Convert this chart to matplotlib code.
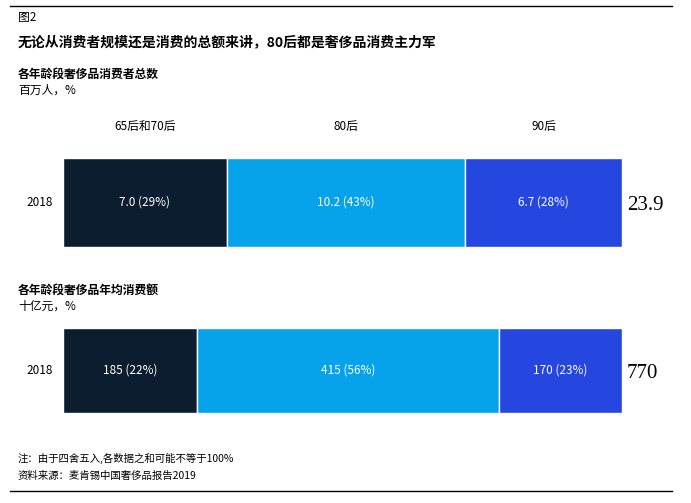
import matplotlib.pyplot as plt

plt.rcParams['font.family'] = ['Noto Sans CJK SC', 'DejaVu Sans']

groups = ["65后和70后", "80后", "90后"]
year = "2018"
consumers = [7.0, 10.2, 6.7]
consumer_pct = [29, 43, 28]
consumer_total = "23.9"
spend = [185, 415, 170]
spend_pct = [22, 56, 23]
spend_total = "770"
colors = ["#0b1d2e", "#06a3ea", "#2546df"]

W, H = 691, 503
fig = plt.figure(figsize=(W / 100, H / 100), dpi=100)


def px_axes(x0, y0, x1, y1):
    return fig.add_axes([x0 / W, 1 - y1 / H, (x1 - x0) / W, (y1 - y0) / H])


def stacked(ax, values, pcts, fmt):
    left = 0
    for v, p, c in zip(values, pcts, colors):
        ax.barh(0, v, left=left, color=c, height=1, edgecolor='white', linewidth=1)
        ax.text(left + v / 2, 0, f"{fmt(v)} ({p}%)", color='white', ha='center', va='center', fontsize=8.5)
        left += v
    ax.set_xlim(0, sum(values))
    ax.set_ylim(-0.5, 0.5)
    ax.axis('off')
    return left


def line(y):
    fig.add_artist(plt.Line2D([10 / W, 672 / W], [1 - y / H, 1 - y / H], color='black', lw=1))


line(6)
line(491)
fig.text(18 / W, 1 - 18 / H, "图2", fontsize=8.5, va='center')
fig.text(18 / W, 1 - 42 / H, "无论从消费者规模还是消费的总额来讲，80后都是奢侈品消费主力军",
         fontsize=10, fontweight='bold', va='center')

# section 1
fig.text(18 / W, 1 - 74 / H, "各年龄段奢侈品消费者总数", fontsize=8.5, fontweight='bold', va='center')
fig.text(18 / W, 1 - 90 / H, "百万人，%", fontsize=8.5, va='center')
ax1 = px_axes(63, 158, 622, 247)
stacked(ax1, consumers, consumer_pct, lambda v: f"{v:.1f}")
left = 0
for g, v in zip(groups, consumers):
    ax1.text(left + v / 2, 0.85, g, ha='center', va='center', fontsize=8.5)
    left += v
fig.text(40 / W, 1 - 202 / H, year, fontsize=8.5, ha='center', va='center')
fig.text(627 / W, 1 - 205 / H, consumer_total, fontsize=15, family='Liberation Serif', va='center')

# section 2
fig.text(18 / W, 1 - 290 / H, "各年龄段奢侈品年均消费额", fontsize=8.5, fontweight='bold', va='center')
fig.text(18 / W, 1 - 306 / H, "十亿元，%", fontsize=8.5, va='center')
ax2 = px_axes(63, 328, 622, 413)
stacked(ax2, spend, spend_pct, lambda v: f"{v}")
fig.text(40 / W, 1 - 370 / H, year, fontsize=8.5, ha='center', va='center')
fig.text(627 / W, 1 - 374 / H, spend_total, fontsize=15, family='Liberation Serif', va='center')

fig.text(18 / W, 1 - 458 / H, "注：由于四舍五入,各数据之和可能不等于100%", fontsize=7.5, va='center')
fig.text(18 / W, 1 - 476 / H, "资料来源：麦肯锡中国奢侈品报告2019", fontsize=7.5, va='center')

fig.savefig("out.png", dpi=100)
